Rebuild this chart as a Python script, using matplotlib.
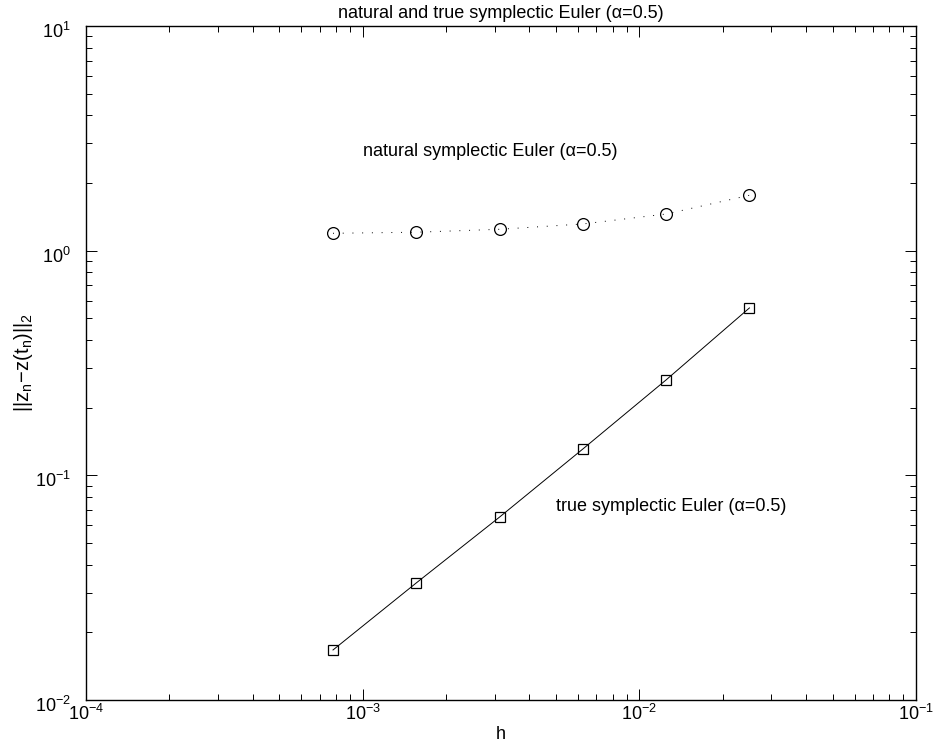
import matplotlib
matplotlib.use("Agg")
import matplotlib.pyplot as plt
from matplotlib.ticker import LogLocator, NullFormatter
from matplotlib.transforms import ScaledTranslation

plt.rcParams['font.family'] = ['Liberation Sans', 'DejaVu Sans']
plt.rcParams['mathtext.fontset'] = 'custom'
plt.rcParams['mathtext.rm'] = 'Liberation Sans'
plt.rcParams['mathtext.it'] = 'Liberation Sans'
plt.rcParams['mathtext.sf'] = 'Liberation Sans'

h = [0.00078125, 0.0015625, 0.003125, 0.00625, 0.0125, 0.025]
err_natural = [1.195, 1.208, 1.245, 1.315, 1.456, 1.764]
err_true = [0.0167, 0.0332, 0.0652, 0.131, 0.266, 0.556]

title = "natural and true symplectic Euler (\u03b1=0.5)"
label_natural = "natural symplectic Euler (\u03b1=0.5)"
label_true = "true symplectic Euler (\u03b1=0.5)"

FS = 13

fig = plt.figure(figsize=(9.34, 7.47), dpi=100)
ax = fig.add_axes([86/934, 1-700/747, 830/934, 674/747])

ax.loglog(h, err_natural, linestyle=(0, (1, 9)), color='black', linewidth=0.7,
          marker='o', markersize=8.5, markerfacecolor='none', markeredgewidth=0.9)
ax.loglog(h, err_true, linestyle='-', color='black', linewidth=0.7,
          marker='s', markersize=6.8, markerfacecolor='none', markeredgewidth=0.9)

ax.set_xlim(1e-4, 1e-1)
ax.set_ylim(1e-2, 1e1)

ax.text(1e-3, 2.75, label_natural, fontsize=FS, va='center', ha='left')
ax.text(5.0e-3, 0.0723, label_true, fontsize=FS, va='center', ha='left')

ax.set_title(title, fontsize=FS, pad=6)
ax.set_xlabel('h', fontsize=FS, labelpad=1)
ax.set_ylabel(r'$||z_n\!-\!z(t_n)||_2$', fontsize=14.5)
ax.yaxis.label.set_va('center')
ax.yaxis.set_label_coords(-62/830, 0.5)

ax.xaxis.set_major_locator(LogLocator(base=10, numticks=10))
ax.yaxis.set_major_locator(LogLocator(base=10, numticks=10))
ax.xaxis.set_minor_locator(LogLocator(base=10, subs=range(2, 10), numticks=20))
ax.yaxis.set_minor_locator(LogLocator(base=10, subs=range(2, 10), numticks=20))
ax.xaxis.set_minor_formatter(NullFormatter())
ax.yaxis.set_minor_formatter(NullFormatter())

ax.tick_params(which='both', direction='in', top=True, right=True, labelsize=FS, width=0.7)
ax.tick_params(which='major', length=8)
ax.tick_params(which='minor', length=4)
ax.tick_params(axis='x', which='major', pad=3)
ax.tick_params(axis='y', which='major', pad=11)
for s in ax.spines.values():
    s.set_linewidth(1.0)

shift = ScaledTranslation(0, -4/100, fig.dpi_scale_trans)
for lab in ax.get_yticklabels():
    lab.set_transform(lab.get_transform() + shift)

fig.savefig('out.png', dpi=100)
